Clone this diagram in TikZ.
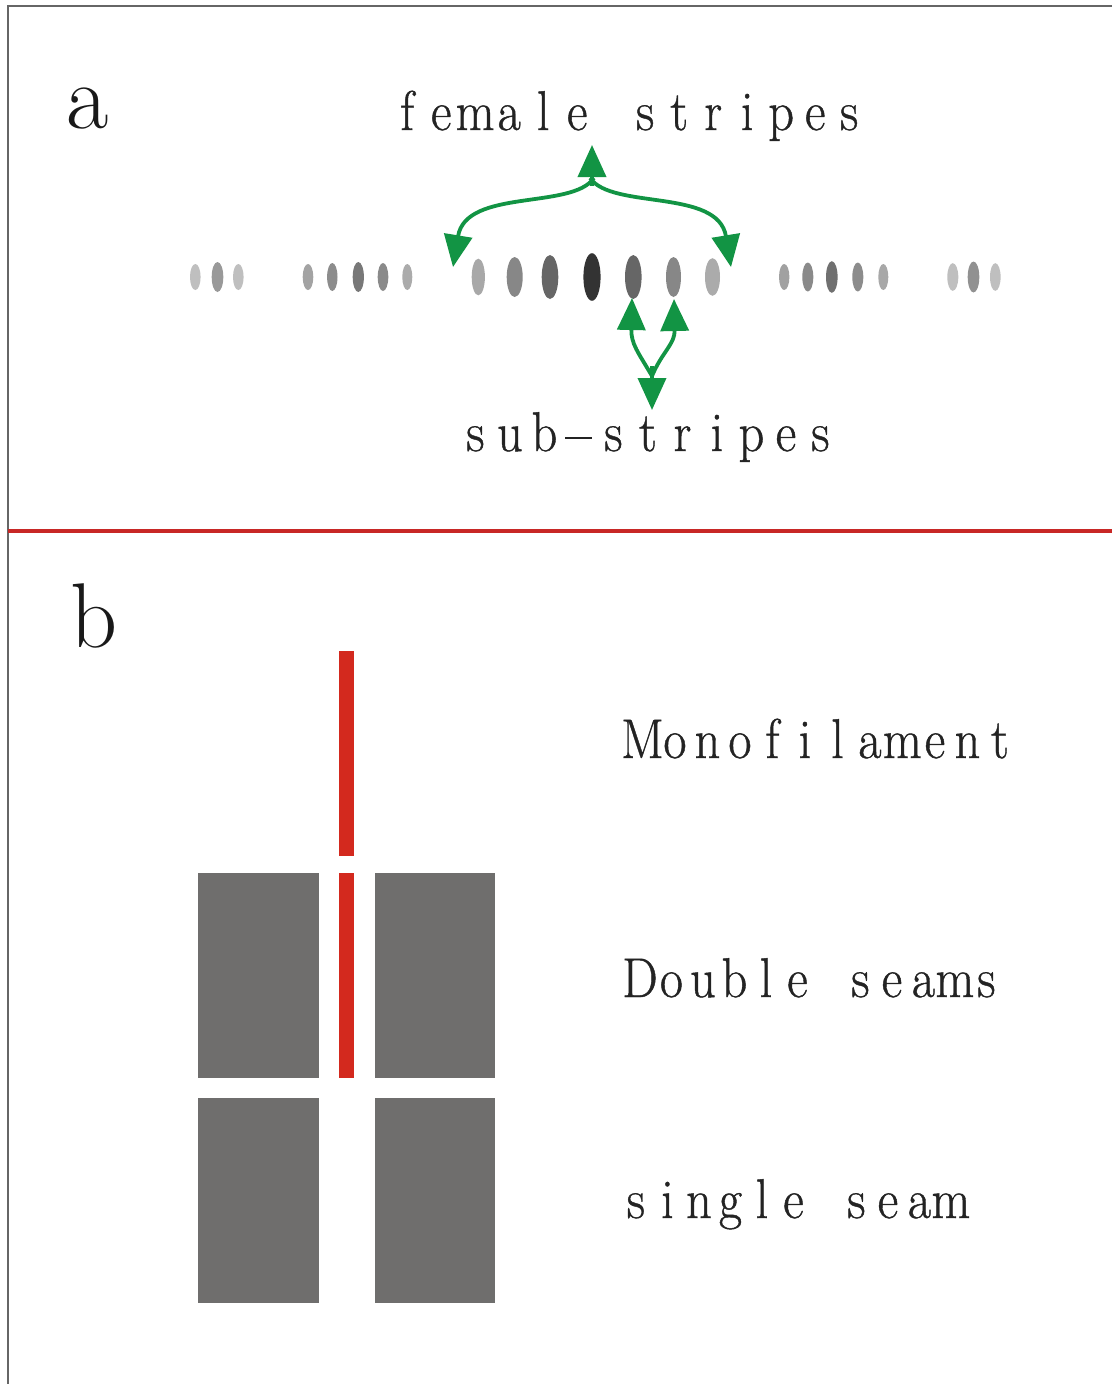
\documentclass[tikz,border=0pt]{standalone}
\usepackage{fontspec}
\usepackage{graphicx}
\usetikzlibrary{arrows.meta}
\newfontfamily\lmbold{Latin Modern Roman}[FakeBold=0.8]
\makeatletter
\newcommand\cellword[2]{\@tfor\cwch:=#2\do{\makebox[#1][c]{\scalebox{0.9}[1]{\cwch}}}}
\makeatother
\newcommand\celldash[1]{\makebox[#1][c]{\rule[12pt]{27pt}{2.2pt}}}
\definecolor{grn}{RGB}{18,148,68}
\definecolor{seamred}{RGB}{211,41,30}
\definecolor{lineRed}{RGB}{200,40,38}
\definecolor{blockgray}{RGB}{111,110,109}
\definecolor{txt}{RGB}{35,35,35}
\begin{document}
\begin{tikzpicture}[x=1pt,y=-1pt,
  lbl/.style={anchor=base west,inner sep=0pt,text=txt,font=\lmbold\fontsize{56}{60}\selectfont},
  panel/.style={anchor=base west,inner sep=0pt,text=black!90,font=\rmfamily\fontsize{92}{96}\selectfont},
  garrow/.style={draw=grn,line width=3.8pt,-{Triangle[length=32pt,width=28pt]}}]
\useasboundingbox (0,0) rectangle (1112,1384);
\fill[white] (0,0) rectangle (1112,1384);
% frame
\draw[black!60,line width=1.5pt] (1112,6) -- (8,6) -- (8,1384);
% separator
\draw[lineRed,line width=4pt] (8,531) -- (1112,531);

% panel labels
\node[panel] (la) at (66,128) {a};
\node[panel] (lb) at (70,647) {b};

% stripes
\foreach \x/\rx/\ry/\c in {
  195.3/5.3pt/13pt/25, 217.5/5.8pt/15pt/40, 238.3/5.3pt/13pt/25,
  308/5.3pt/13pt/36, 332.3/5.2pt/14pt/45, 358.3/5.6pt/15pt/53, 383/5.3pt/14pt/46, 407.3/5pt/13pt/33,
  478.3/6.6pt/18.3pt/34, 514.7/8pt/20pt/47, 550/8.3pt/22pt/60, 592/8.6pt/23.8pt/80,
  633.3/8.3pt/22pt/60, 673.5/7.5pt/20pt/47, 712.5/7.5pt/18.8pt/33,
  784.2/5.2pt/13pt/37, 807.8/5.5pt/14.5pt/46, 831.8/5.8pt/15.8pt/56, 857.8/5.5pt/14.5pt/45, 883.3/5pt/13pt/34,
  952.8/5.5pt/13.8pt/25, 973.5/5.8pt/15.5pt/43, 995.3/5.3pt/13.8pt/25}
  \fill[black!\c] (\x,277) ellipse [x radius=\rx, y radius=\ry];

% texts of panel a
\node[lbl] (fem) at (390,130) {\cellword{34pt}{female}\hspace{34pt}\cellword{34pt}{stripes}};
\node[lbl] (sub) at (458,451) {\cellword{34.5pt}{sub}\celldash{34.5pt}\cellword{34.5pt}{stripes}};

% green arrows: female stripes
\coordinate (j1) at (592,186);
\coordinate (t1) at (592,145);
\coordinate (t1l) at (453,267);
\coordinate (t1r) at (731,267);
\draw[garrow] (j1) -- (t1);
\draw[garrow] (594,178) .. controls (572,210) and (466,188) .. (t1l);
\draw[garrow] (590,178) .. controls (612,210) and (718,188) .. (t1r);

% green arrows: sub-stripes
\coordinate (j2) at (652,366);
\coordinate (t2) at (652,410);
\coordinate (t2l) at (632,298);
\coordinate (t2r) at (674,299);
\draw[garrow] (j2) -- (t2);
\draw[garrow] (652,376) .. controls (638,352) and (631,344) .. (t2l);
\draw[garrow] (652,376) .. controls (662,352) and (675,344) .. (t2r);

% panel b blocks
\fill[seamred] (338.5,651) rectangle (353.5,856);
\fill[seamred] (338.5,873) rectangle (353.5,1077.5);
\fill[blockgray] (197.5,873) rectangle (318.5,1077.5);
\fill[blockgray] (374.5,873) rectangle (495,1077.5);
\fill[blockgray] (197.5,1098) rectangle (318.5,1303);
\fill[blockgray] (374.5,1098) rectangle (495,1303);

% texts of panel b
\node[lbl] (mono) at (626,758) {\cellword{32.5pt}{Monofilament}};
\node[lbl] (dbl) at (624,997) {\cellword{31.5pt}{Double}\hspace{31.5pt}\cellword{31.5pt}{seams}};
\node[lbl] (sgl) at (620,1218) {\cellword{31.5pt}{single}\hspace{31.5pt}\cellword{31.5pt}{seam}};
\end{tikzpicture}
\end{document}
